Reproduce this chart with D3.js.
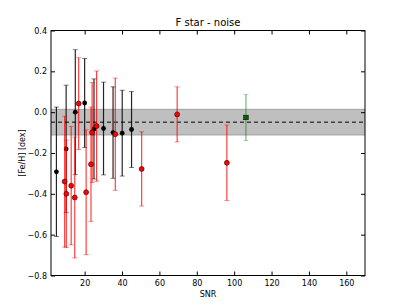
<!DOCTYPE html>
<html>
<head>
<meta charset="utf-8">
<script src="https://cdn.jsdelivr.net/npm/d3@7"></script>
<style>
  body { margin: 0; background: #fff; }
  text { font-family: "DejaVu Sans", sans-serif; }
</style>
</head>
<body>
<svg id="chart" width="407" height="307"></svg>
<script>
// black: SNR, [Fe/H], error
var blackSnr = [4.9, 10.1, 15.0, 20.0, 25.0, 30.1, 35.2, 40.1, 45.1];
var blackFeh = [-0.292, -0.18, 0.0, 0.045, -0.082, -0.08, -0.10, -0.103, -0.085];
var blackErr = [0.317, 0.312, 0.306, 0.218, 0.245, 0.227, 0.224, 0.21, 0.186];

// red
var redSnr = [9.3, 10.2, 12.8, 14.7, 16.8, 20.8, 23.4, 24.0, 26.4, 36.4, 50.5, 69.5, 96.1];
var redFeh = [-0.34, -0.40, -0.36, -0.418, 0.042, -0.392, -0.255, -0.10, -0.068, -0.108, -0.278, -0.011, -0.248];
var redErr = [0.32, 0.263, 0.29, 0.296, 0.225, 0.306, 0.28, 0.245, 0.27, 0.275, 0.182, 0.135, 0.185];

// green
var greenSnr = [106.3];
var greenFeh = [-0.026];
var greenErr = [0.113];

var meanFeh = -0.049;
var bandLow = -0.112, bandHigh = 0.014;

var xTicks = [20, 40, 60, 80, 100, 120, 140, 160];
var yTicks = [0.4, 0.2, 0.0, -0.2, -0.4, -0.6, -0.8];

var svg = d3.select("#chart");
var margin = {left: 51, right: 365, top: 30.5, bottom: 275.5};

var x = d3.scaleLinear().domain([2, 170]).range([margin.left, margin.right]);
var y = d3.scaleLinear().domain([-0.8, 0.4]).range([margin.bottom, margin.top]);

var zip = function(xs, ys, es) {
  return xs.map(function(v, i) { return {x: v, y: ys[i], e: es[i]}; });
};

// band
svg.append("rect")
  .attr("x", margin.left).attr("width", margin.right - margin.left)
  .attr("y", y(bandHigh)).attr("height", y(bandLow) - y(bandHigh))
  .attr("fill", "#808080").attr("fill-opacity", 0.5);
[bandLow, bandHigh].forEach(function(v) {
  svg.append("line")
    .attr("x1", margin.left).attr("x2", margin.right)
    .attr("y1", y(v)).attr("y2", y(v))
    .attr("stroke", "#808080").attr("stroke-opacity", 0.6);
});
svg.append("line")
  .attr("x1", margin.left).attr("x2", margin.right)
  .attr("y1", y(meanFeh)).attr("y2", y(meanFeh))
  .attr("stroke", "#000").attr("stroke-width", 1)
  .attr("stroke-dasharray", "4,3");

var drawBars = function(data, color, opacity) {
  var g = svg.append("g").attr("stroke", color).attr("stroke-opacity", opacity);
  data.forEach(function(d) {
    var cx = x(d.x);
    g.append("line")
      .attr("x1", cx).attr("x2", cx)
      .attr("y1", y(d.y - d.e)).attr("y2", y(d.y + d.e))
      .attr("stroke-width", 1.2);
    [d.y - d.e, d.y + d.e].forEach(function(v) {
      g.append("line")
        .attr("x1", cx - 2.5).attr("x2", cx + 2.5)
        .attr("y1", y(v)).attr("y2", y(v))
        .attr("stroke-opacity", opacity * 0.6);
    });
  });
};

var blackData = zip(blackSnr, blackFeh, blackErr);
var redData = zip(redSnr, redFeh, redErr);
var greenData = zip(greenSnr, greenFeh, greenErr);

drawBars(blackData, "#000", 0.85);
svg.selectAll("circle.black").data(blackData).enter().append("circle")
  .attr("class", "black")
  .attr("cx", function(d) { return x(d.x); })
  .attr("cy", function(d) { return y(d.y); })
  .attr("r", 2.4).attr("fill", "#000");

drawBars(redData, "#ff0000", 0.75);
svg.selectAll("circle.red").data(redData).enter().append("circle")
  .attr("class", "red")
  .attr("cx", function(d) { return x(d.x); })
  .attr("cy", function(d) { return y(d.y); })
  .attr("r", 2.5).attr("fill", "#ff0000")
  .attr("stroke", "#000").attr("stroke-width", 0.5);

drawBars(greenData, "#008000", 0.55);
svg.selectAll("rect.green").data(greenData).enter().append("rect")
  .attr("class", "green")
  .attr("x", function(d) { return x(d.x) - 2.3; })
  .attr("y", function(d) { return y(d.y) - 2.3; })
  .attr("width", 4.6).attr("height", 4.6)
  .attr("fill", "#006400")
  .attr("stroke", "#000").attr("stroke-width", 0.5);

// axes, ticks inward on all sides
var xAxis = d3.axisBottom(x).tickValues(xTicks).tickSize(-4).tickPadding(5).tickFormat(d3.format("d"));
var xTop = d3.axisTop(x).tickValues(xTicks).tickSize(-4).tickFormat("");
var yAxis = d3.axisLeft(y).tickValues(yTicks).tickSize(-4).tickPadding(4)
  .tickFormat(function(d) { return d3.format(".1f")(d).replace("-", "\u2212"); });
var yRight = d3.axisRight(y).tickValues(yTicks).tickSize(-4).tickFormat("");

var styleAxis = function(g) {
  g.select(".domain").remove();
  g.selectAll("line").attr("stroke", "#000");
  g.selectAll("text").attr("font-size", 8).attr("fill", "#000")
    .attr("font-family", "DejaVu Sans, sans-serif");
};

svg.append("g").attr("transform", "translate(0," + margin.bottom + ")").call(xAxis).call(styleAxis);
svg.append("g").attr("transform", "translate(0," + margin.top + ")").call(xTop).call(styleAxis);
svg.append("g").attr("transform", "translate(" + margin.left + ",0)").call(yAxis).call(styleAxis);
svg.append("g").attr("transform", "translate(" + margin.right + ",0)").call(yRight).call(styleAxis);

svg.append("rect")
  .attr("x", margin.left).attr("y", margin.top)
  .attr("width", margin.right - margin.left).attr("height", margin.bottom - margin.top)
  .attr("fill", "none").attr("stroke", "#000").attr("stroke-width", 1);

svg.append("text")
  .attr("x", (margin.left + margin.right) / 2).attr("y", 26)
  .attr("text-anchor", "middle").attr("font-size", 10)
  .text("F star - noise");

svg.append("text")
  .attr("x", (margin.left + margin.right) / 2).attr("y", 297)
  .attr("text-anchor", "middle").attr("font-size", 8)
  .text("SNR");

svg.append("text")
  .attr("transform", "translate(25," + ((margin.top + margin.bottom) / 2) + ") rotate(-90)")
  .attr("text-anchor", "middle").attr("font-size", 8)
  .text("[Fe/H] [dex]");
</script>
</body>
</html>
